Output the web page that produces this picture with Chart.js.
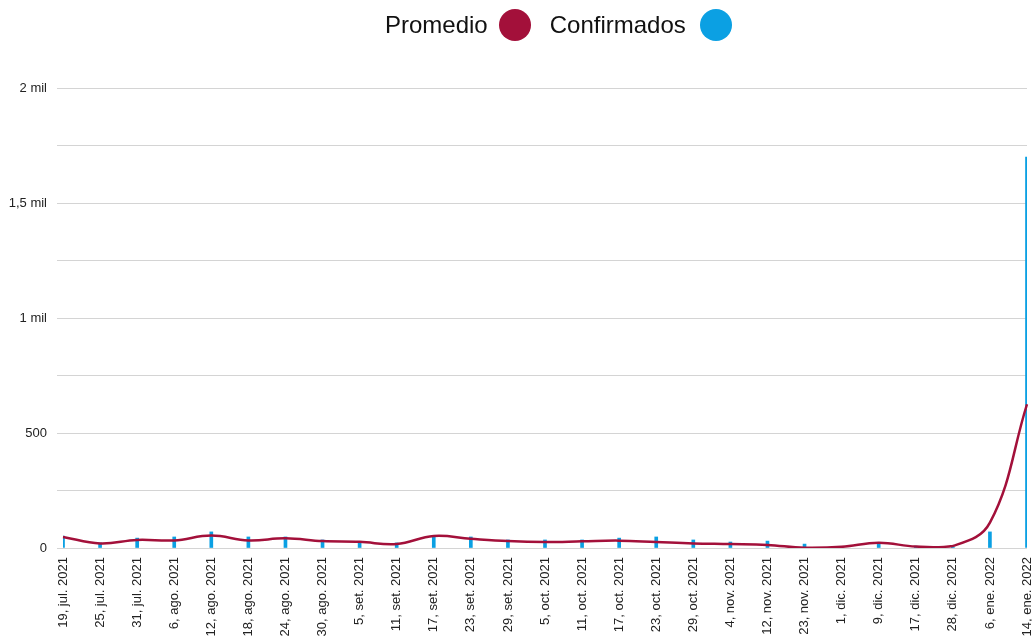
<!DOCTYPE html>
<html>
<head>
<meta charset="utf-8">
<script src="https://cdn.jsdelivr.net/npm/chart.js@4/dist/chart.umd.min.js"></script>
<style>
  html, body { margin: 0; padding: 0; background: #fff; overflow: hidden; }
  #wrap { position: relative; width: 1032px; height: 636px; }
  #legend {
    position: absolute; top: 9px; left: 385px; display: flex; align-items: center;
    font-family: "Liberation Sans", Arial, sans-serif; font-size: 24px; color: #111;
  }
  #legend .dot { width: 32px; height: 32px; border-radius: 50%; display: inline-block; }
</style>
</head>
<body>
<div id="wrap">
  <canvas id="chart" width="1032" height="636"></canvas>
  <div id="legend">
    <span>Promedio</span><span class="dot" style="background:#a3103a;margin-left:11px;margin-right:19px"></span>
    <span>Confirmados</span><span class="dot" style="background:#0ba0e3;margin-left:14px"></span>
  </div>
</div>
<script>
const labels = [
  '19, jul. 2021', '25, jul. 2021', '31, jul. 2021', '6, ago. 2021', '12, ago. 2021',
  '18, ago. 2021', '24, ago. 2021', '30, ago. 2021', '5, set. 2021', '11, set. 2021',
  '17, set. 2021', '23, set. 2021', '29, set. 2021', '5, oct. 2021', '11, oct. 2021',
  '17, oct. 2021', '23, oct. 2021', '29, oct. 2021', '4, nov. 2021', '12, nov. 2021',
  '23, nov. 2021', '1, dic. 2021', '9, dic. 2021', '17, dic. 2021', '28, dic. 2021',
  '6, ene. 2022', '14, ene. 2022'
];
const confirmados = [
  52, 22, 43, 48, 70, 48, 48, 35, 26, 22, 48, 48, 35, 35, 35, 43, 48, 35, 26, 30,
  17, 0, 22, 8, 4, 70, 1700
];
const promedio = [
  48, 20, 35, 33, 54, 33, 42, 30, 27, 17, 52, 40, 30, 26, 29, 32, 26, 20, 17, 13,
  1, 5, 23, 6, 9, 110, 625
];

const font = { family: '"Liberation Sans", Arial, sans-serif', size: 13 };

function yLabel(v) {
  if (v === 0) return '0';
  if (v === 500) return '500';
  if (v % 500 === 0) return String(v / 1000).replace('.', ',') + ' mil';
  return '';
}

new Chart(document.getElementById('chart').getContext('2d'), {
  data: {
    labels: labels,
    datasets: [{
      type: 'line',
      label: 'Promedio',
      data: promedio,
      borderColor: '#a3103a',
      borderWidth: 2.5,
      pointRadius: 0,
      tension: 0.4,
      fill: false,
      order: 0
    }, {
      type: 'bar',
      label: 'Confirmados',
      data: confirmados,
      backgroundColor: '#0ba0e3',
      barThickness: 3,
      order: 1
    }]
  },
  options: {
    responsive: false,
    animation: false,
    layout: { padding: { top: 88, right: 5, left: 0, bottom: 0 } },
    scales: {
      x: {
        offset: false,
        grid: { display: false, drawTicks: false },
        border: { display: false },
        ticks: {
          autoSkip: false,
          maxRotation: 90,
          minRotation: 90,
          padding: 9,
          color: '#222',
          font: font
        },
        afterFit: (scale) => {
          scale.height = 88;
          scale.paddingLeft = 0;
          scale.paddingRight = 0;
        }
      },
      y: {
        min: 0,
        max: 2000,
        grid: { color: '#d4d4d4', tickLength: 6, drawTicks: true },
        border: { display: false },
        ticks: {
          stepSize: 250,
          padding: 10,
          color: '#222',
          font: font,
          callback: yLabel
        },
        afterFit: (scale) => { scale.width = 63; }
      }
    },
    plugins: {
      legend: { display: false },
      tooltip: { enabled: false }
    }
  }
});
</script>
</body>
</html>
